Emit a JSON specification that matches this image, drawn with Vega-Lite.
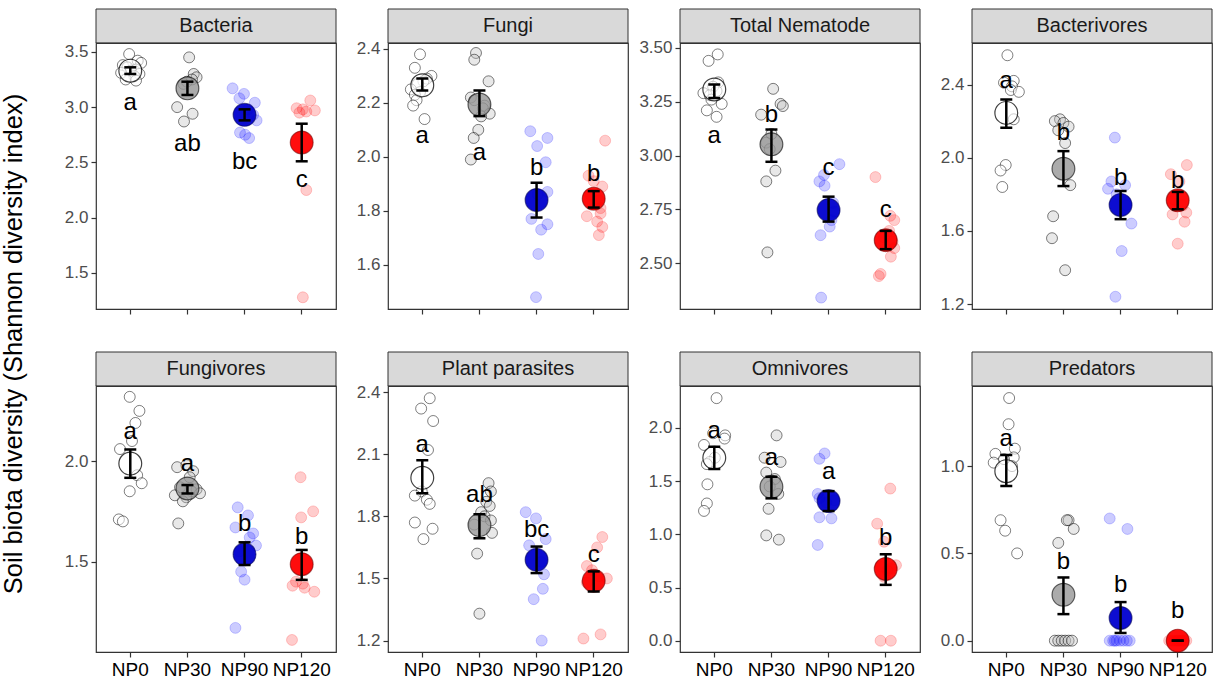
{
"$schema": "https://vega.github.io/schema/vega-lite/v6.json",
"background": "white",
"padding": {"left": 2, "top": 8, "right": 5, "bottom": 5},
"title": {"text": "Soil biota diversity (Shannon diversity index)", "orient": "left", "anchor": "middle", "fontSize": 25.5, "fontWeight": "normal", "color": "black", "font": "Liberation Sans", "offset": 36},
"datasets": {
"pts": [
{"p":"Bacteria","t":"NP0","v":3.48,"j":-0.02},{"p":"Bacteria","t":"NP0","v":3.42,"j":0.13},{"p":"Bacteria","t":"NP0","v":3.40,"j":0.19},{"p":"Bacteria","t":"NP0","v":3.38,"j":-0.13},{"p":"Bacteria","t":"NP0","v":3.36,"j":-0.05},{"p":"Bacteria","t":"NP0","v":3.34,"j":0.10},{"p":"Bacteria","t":"NP0","v":3.33,"j":0.01},{"p":"Bacteria","t":"NP0","v":3.31,"j":-0.16},{"p":"Bacteria","t":"NP0","v":3.30,"j":0.16},{"p":"Bacteria","t":"NP0","v":3.28,"j":0.07},{"p":"Bacteria","t":"NP0","v":3.25,"j":-0.08},{"p":"Bacteria","t":"NP0","v":3.24,"j":0.10},
{"p":"Bacteria","t":"NP30","v":3.45,"j":0.03},{"p":"Bacteria","t":"NP30","v":3.30,"j":0.11},{"p":"Bacteria","t":"NP30","v":3.27,"j":0.16},{"p":"Bacteria","t":"NP30","v":3.25,"j":0.08},{"p":"Bacteria","t":"NP30","v":3.23,"j":-0.01},{"p":"Bacteria","t":"NP30","v":3.21,"j":-0.07},{"p":"Bacteria","t":"NP30","v":3.00,"j":-0.18},{"p":"Bacteria","t":"NP30","v":2.94,"j":0.09},{"p":"Bacteria","t":"NP30","v":2.87,"j":-0.06},
{"p":"Bacteria","t":"NP90","v":3.17,"j":-0.21},{"p":"Bacteria","t":"NP90","v":3.12,"j":-0.01},{"p":"Bacteria","t":"NP90","v":3.08,"j":-0.09},{"p":"Bacteria","t":"NP90","v":3.04,"j":0.18},{"p":"Bacteria","t":"NP90","v":2.98,"j":0.06},{"p":"Bacteria","t":"NP90","v":2.93,"j":0.15},{"p":"Bacteria","t":"NP90","v":2.88,"j":0.21},{"p":"Bacteria","t":"NP90","v":2.77,"j":-0.08},{"p":"Bacteria","t":"NP90","v":2.75,"j":0.01},{"p":"Bacteria","t":"NP90","v":2.72,"j":0.08},
{"p":"Bacteria","t":"NP120","v":3.06,"j":0.15},{"p":"Bacteria","t":"NP120","v":2.99,"j":-0.09},{"p":"Bacteria","t":"NP120","v":2.98,"j":0.02},{"p":"Bacteria","t":"NP120","v":2.97,"j":0.23},{"p":"Bacteria","t":"NP120","v":2.96,"j":0.08},{"p":"Bacteria","t":"NP120","v":2.95,"j":-0.04},{"p":"Bacteria","t":"NP120","v":2.25,"j":0.08},{"p":"Bacteria","t":"NP120","v":1.28,"j":0.02},
{"p":"Fungi","t":"NP0","v":2.38,"j":-0.04},{"p":"Fungi","t":"NP0","v":2.33,"j":-0.13},{"p":"Fungi","t":"NP0","v":2.30,"j":0.16},{"p":"Fungi","t":"NP0","v":2.29,"j":0.08},{"p":"Fungi","t":"NP0","v":2.28,"j":0.02},{"p":"Fungi","t":"NP0","v":2.27,"j":-0.08},{"p":"Fungi","t":"NP0","v":2.25,"j":-0.2},{"p":"Fungi","t":"NP0","v":2.24,"j":-0.04},{"p":"Fungi","t":"NP0","v":2.23,"j":-0.13},{"p":"Fungi","t":"NP0","v":2.21,"j":-0.1},{"p":"Fungi","t":"NP0","v":2.19,"j":-0.16},{"p":"Fungi","t":"NP0","v":2.14,"j":0.04},
{"p":"Fungi","t":"NP30","v":2.385,"j":-0.06},{"p":"Fungi","t":"NP30","v":2.36,"j":-0.09},{"p":"Fungi","t":"NP30","v":2.28,"j":0.16},{"p":"Fungi","t":"NP30","v":2.22,"j":-0.15},{"p":"Fungi","t":"NP30","v":2.21,"j":-0.09},{"p":"Fungi","t":"NP30","v":2.19,"j":0.09},{"p":"Fungi","t":"NP30","v":2.18,"j":0.06},{"p":"Fungi","t":"NP30","v":2.16,"j":0.18},{"p":"Fungi","t":"NP30","v":2.15,"j":0.03},{"p":"Fungi","t":"NP30","v":2.10,"j":-0.02},{"p":"Fungi","t":"NP30","v":2.07,"j":-0.1},{"p":"Fungi","t":"NP30","v":1.99,"j":-0.15},
{"p":"Fungi","t":"NP90","v":2.095,"j":-0.11},{"p":"Fungi","t":"NP90","v":2.07,"j":0.19},{"p":"Fungi","t":"NP90","v":2.04,"j":0.01},{"p":"Fungi","t":"NP90","v":1.98,"j":0.16},{"p":"Fungi","t":"NP90","v":1.87,"j":0.19},{"p":"Fungi","t":"NP90","v":1.86,"j":0.02},{"p":"Fungi","t":"NP90","v":1.77,"j":-0.09},{"p":"Fungi","t":"NP90","v":1.75,"j":0.19},{"p":"Fungi","t":"NP90","v":1.73,"j":0.08},{"p":"Fungi","t":"NP90","v":1.64,"j":0.03},{"p":"Fungi","t":"NP90","v":1.48,"j":-0.01},
{"p":"Fungi","t":"NP120","v":2.06,"j":0.2},{"p":"Fungi","t":"NP120","v":1.93,"j":-0.09},{"p":"Fungi","t":"NP120","v":1.91,"j":0.0},{"p":"Fungi","t":"NP120","v":1.89,"j":0.15},{"p":"Fungi","t":"NP120","v":1.86,"j":-0.06},{"p":"Fungi","t":"NP120","v":1.84,"j":0.09},{"p":"Fungi","t":"NP120","v":1.81,"j":0.12},{"p":"Fungi","t":"NP120","v":1.79,"j":0.12},{"p":"Fungi","t":"NP120","v":1.78,"j":-0.12},{"p":"Fungi","t":"NP120","v":1.76,"j":0.06},{"p":"Fungi","t":"NP120","v":1.74,"j":0.15},{"p":"Fungi","t":"NP120","v":1.71,"j":0.09},
{"p":"Total Nematode","t":"NP0","v":3.47,"j":0.06},{"p":"Total Nematode","t":"NP0","v":3.44,"j":-0.1},{"p":"Total Nematode","t":"NP0","v":3.34,"j":0.07},{"p":"Total Nematode","t":"NP0","v":3.32,"j":-0.02},{"p":"Total Nematode","t":"NP0","v":3.30,"j":0.04},{"p":"Total Nematode","t":"NP0","v":3.29,"j":-0.19},{"p":"Total Nematode","t":"NP0","v":3.28,"j":-0.08},{"p":"Total Nematode","t":"NP0","v":3.26,"j":-0.05},{"p":"Total Nematode","t":"NP0","v":3.24,"j":0.13},{"p":"Total Nematode","t":"NP0","v":3.21,"j":-0.13},{"p":"Total Nematode","t":"NP0","v":3.18,"j":0.04},
{"p":"Total Nematode","t":"NP30","v":3.31,"j":0.03},{"p":"Total Nematode","t":"NP30","v":3.24,"j":0.16},{"p":"Total Nematode","t":"NP30","v":3.23,"j":0.2},{"p":"Total Nematode","t":"NP30","v":3.19,"j":-0.18},{"p":"Total Nematode","t":"NP30","v":3.10,"j":0.0},{"p":"Total Nematode","t":"NP30","v":3.06,"j":-0.09},{"p":"Total Nematode","t":"NP30","v":3.03,"j":-0.03},{"p":"Total Nematode","t":"NP30","v":2.93,"j":0.07},{"p":"Total Nematode","t":"NP30","v":2.88,"j":-0.09},{"p":"Total Nematode","t":"NP30","v":2.55,"j":-0.07},
{"p":"Total Nematode","t":"NP90","v":2.96,"j":0.19},{"p":"Total Nematode","t":"NP90","v":2.91,"j":-0.08},{"p":"Total Nematode","t":"NP90","v":2.88,"j":-0.16},{"p":"Total Nematode","t":"NP90","v":2.86,"j":-0.07},{"p":"Total Nematode","t":"NP90","v":2.78,"j":0.08},{"p":"Total Nematode","t":"NP90","v":2.74,"j":0.1},{"p":"Total Nematode","t":"NP90","v":2.70,"j":0.05},{"p":"Total Nematode","t":"NP90","v":2.67,"j":0.02},{"p":"Total Nematode","t":"NP90","v":2.63,"j":-0.14},{"p":"Total Nematode","t":"NP90","v":2.34,"j":-0.13},
{"p":"Total Nematode","t":"NP120","v":2.90,"j":-0.18},{"p":"Total Nematode","t":"NP120","v":2.72,"j":0.08},{"p":"Total Nematode","t":"NP120","v":2.70,"j":0.15},{"p":"Total Nematode","t":"NP120","v":2.65,"j":0.06},{"p":"Total Nematode","t":"NP120","v":2.62,"j":-0.03},{"p":"Total Nematode","t":"NP120","v":2.60,"j":0.12},{"p":"Total Nematode","t":"NP120","v":2.57,"j":0.15},{"p":"Total Nematode","t":"NP120","v":2.53,"j":0.09},{"p":"Total Nematode","t":"NP120","v":2.45,"j":-0.09},{"p":"Total Nematode","t":"NP120","v":2.44,"j":-0.12},
{"p":"Bacterivores","t":"NP0","v":2.56,"j":0.02},{"p":"Bacterivores","t":"NP0","v":2.42,"j":0.13},{"p":"Bacterivores","t":"NP0","v":2.41,"j":-0.04},{"p":"Bacterivores","t":"NP0","v":2.39,"j":0.1},{"p":"Bacterivores","t":"NP0","v":2.37,"j":0.08},{"p":"Bacterivores","t":"NP0","v":2.36,"j":0.22},{"p":"Bacterivores","t":"NP0","v":2.21,"j":0.13},{"p":"Bacterivores","t":"NP0","v":1.96,"j":-0.01},{"p":"Bacterivores","t":"NP0","v":1.93,"j":-0.1},{"p":"Bacterivores","t":"NP0","v":1.84,"j":-0.07},
{"p":"Bacterivores","t":"NP30","v":2.21,"j":-0.06},{"p":"Bacterivores","t":"NP30","v":2.20,"j":-0.15},{"p":"Bacterivores","t":"NP30","v":2.19,"j":0.0},{"p":"Bacterivores","t":"NP30","v":2.17,"j":0.09},{"p":"Bacterivores","t":"NP30","v":2.15,"j":-0.09},{"p":"Bacterivores","t":"NP30","v":2.08,"j":0.03},{"p":"Bacterivores","t":"NP30","v":1.85,"j":0.12},{"p":"Bacterivores","t":"NP30","v":1.68,"j":-0.18},{"p":"Bacterivores","t":"NP30","v":1.56,"j":-0.2},{"p":"Bacterivores","t":"NP30","v":1.385,"j":0.03},
{"p":"Bacterivores","t":"NP90","v":2.11,"j":-0.1},{"p":"Bacterivores","t":"NP90","v":1.87,"j":-0.16},{"p":"Bacterivores","t":"NP90","v":1.85,"j":0.08},{"p":"Bacterivores","t":"NP90","v":1.83,"j":-0.22},{"p":"Bacterivores","t":"NP90","v":1.80,"j":-0.07},{"p":"Bacterivores","t":"NP90","v":1.74,"j":0.1},{"p":"Bacterivores","t":"NP90","v":1.64,"j":0.19},{"p":"Bacterivores","t":"NP90","v":1.49,"j":0.02},{"p":"Bacterivores","t":"NP90","v":1.24,"j":-0.09},
{"p":"Bacterivores","t":"NP120","v":1.96,"j":0.16},{"p":"Bacterivores","t":"NP120","v":1.91,"j":-0.12},{"p":"Bacterivores","t":"NP120","v":1.87,"j":0.03},{"p":"Bacterivores","t":"NP120","v":1.77,"j":-0.06},{"p":"Bacterivores","t":"NP120","v":1.74,"j":0.09},{"p":"Bacterivores","t":"NP120","v":1.70,"j":0.15},{"p":"Bacterivores","t":"NP120","v":1.69,"j":-0.09},{"p":"Bacterivores","t":"NP120","v":1.65,"j":0.12},{"p":"Bacterivores","t":"NP120","v":1.53,"j":0.0},
{"p":"Fungivores","t":"NP0","v":2.32,"j":-0.01},{"p":"Fungivores","t":"NP0","v":2.25,"j":0.16},{"p":"Fungivores","t":"NP0","v":2.19,"j":0.09},{"p":"Fungivores","t":"NP0","v":2.10,"j":0.03},{"p":"Fungivores","t":"NP0","v":2.06,"j":-0.18},{"p":"Fungivores","t":"NP0","v":1.93,"j":0.12},{"p":"Fungivores","t":"NP0","v":1.89,"j":0.2},{"p":"Fungivores","t":"NP0","v":1.85,"j":-0.01},{"p":"Fungivores","t":"NP0","v":1.71,"j":-0.2},{"p":"Fungivores","t":"NP0","v":1.70,"j":-0.13},
{"p":"Fungivores","t":"NP30","v":1.98,"j":-0.02},{"p":"Fungivores","t":"NP30","v":1.97,"j":-0.18},{"p":"Fungivores","t":"NP30","v":1.95,"j":0.1},{"p":"Fungivores","t":"NP30","v":1.92,"j":0.04},{"p":"Fungivores","t":"NP30","v":1.87,"j":-0.13},{"p":"Fungivores","t":"NP30","v":1.86,"j":0.16},{"p":"Fungivores","t":"NP30","v":1.85,"j":0.07},{"p":"Fungivores","t":"NP30","v":1.84,"j":0.22},{"p":"Fungivores","t":"NP30","v":1.83,"j":-0.22},{"p":"Fungivores","t":"NP30","v":1.82,"j":-0.02},{"p":"Fungivores","t":"NP30","v":1.80,"j":-0.08},{"p":"Fungivores","t":"NP30","v":1.69,"j":-0.16},
{"p":"Fungivores","t":"NP90","v":1.77,"j":-0.12},{"p":"Fungivores","t":"NP90","v":1.73,"j":0.06},{"p":"Fungivores","t":"NP90","v":1.67,"j":-0.16},{"p":"Fungivores","t":"NP90","v":1.64,"j":0.15},{"p":"Fungivores","t":"NP90","v":1.62,"j":0.09},{"p":"Fungivores","t":"NP90","v":1.58,"j":0.2},{"p":"Fungivores","t":"NP90","v":1.55,"j":-0.09},{"p":"Fungivores","t":"NP90","v":1.45,"j":-0.06},{"p":"Fungivores","t":"NP90","v":1.41,"j":0.0},{"p":"Fungivores","t":"NP90","v":1.17,"j":-0.16},
{"p":"Fungivores","t":"NP120","v":1.92,"j":-0.02},{"p":"Fungivores","t":"NP120","v":1.75,"j":0.2},{"p":"Fungivores","t":"NP120","v":1.72,"j":-0.01},{"p":"Fungivores","t":"NP120","v":1.40,"j":-0.1},{"p":"Fungivores","t":"NP120","v":1.39,"j":0.02},{"p":"Fungivores","t":"NP120","v":1.38,"j":-0.16},{"p":"Fungivores","t":"NP120","v":1.37,"j":0.05},{"p":"Fungivores","t":"NP120","v":1.35,"j":0.22},{"p":"Fungivores","t":"NP120","v":1.11,"j":-0.17},
{"p":"Plant parasites","t":"NP0","v":2.37,"j":0.13},{"p":"Plant parasites","t":"NP0","v":2.32,"j":-0.02},{"p":"Plant parasites","t":"NP0","v":2.26,"j":0.19},{"p":"Plant parasites","t":"NP0","v":2.12,"j":0.1},{"p":"Plant parasites","t":"NP0","v":1.92,"j":-0.01},{"p":"Plant parasites","t":"NP0","v":1.90,"j":-0.13},{"p":"Plant parasites","t":"NP0","v":1.88,"j":0.08},{"p":"Plant parasites","t":"NP0","v":1.86,"j":0.13},{"p":"Plant parasites","t":"NP0","v":1.77,"j":-0.13},{"p":"Plant parasites","t":"NP0","v":1.74,"j":0.18},{"p":"Plant parasites","t":"NP0","v":1.69,"j":0.02},
{"p":"Plant parasites","t":"NP30","v":1.96,"j":0.16},{"p":"Plant parasites","t":"NP30","v":1.92,"j":0.2},{"p":"Plant parasites","t":"NP30","v":1.87,"j":0.12},{"p":"Plant parasites","t":"NP30","v":1.85,"j":0.18},{"p":"Plant parasites","t":"NP30","v":1.82,"j":0.03},{"p":"Plant parasites","t":"NP30","v":1.80,"j":0.09},{"p":"Plant parasites","t":"NP30","v":1.78,"j":0.2},{"p":"Plant parasites","t":"NP30","v":1.76,"j":-0.09},{"p":"Plant parasites","t":"NP30","v":1.72,"j":0.22},{"p":"Plant parasites","t":"NP30","v":1.62,"j":-0.04},{"p":"Plant parasites","t":"NP30","v":1.33,"j":0.0},
{"p":"Plant parasites","t":"NP90","v":1.82,"j":-0.19},{"p":"Plant parasites","t":"NP90","v":1.79,"j":-0.01},{"p":"Plant parasites","t":"NP90","v":1.69,"j":0.16},{"p":"Plant parasites","t":"NP90","v":1.66,"j":-0.13},{"p":"Plant parasites","t":"NP90","v":1.58,"j":0.08},{"p":"Plant parasites","t":"NP90","v":1.52,"j":0.13},{"p":"Plant parasites","t":"NP90","v":1.45,"j":0.11},{"p":"Plant parasites","t":"NP90","v":1.40,"j":-0.05},{"p":"Plant parasites","t":"NP90","v":1.20,"j":0.09},
{"p":"Plant parasites","t":"NP120","v":1.70,"j":0.15},{"p":"Plant parasites","t":"NP120","v":1.65,"j":0.06},{"p":"Plant parasites","t":"NP120","v":1.56,"j":-0.12},{"p":"Plant parasites","t":"NP120","v":1.54,"j":-0.03},{"p":"Plant parasites","t":"NP120","v":1.51,"j":0.09},{"p":"Plant parasites","t":"NP120","v":1.50,"j":0.23},{"p":"Plant parasites","t":"NP120","v":1.48,"j":-0.12},{"p":"Plant parasites","t":"NP120","v":1.23,"j":0.12},{"p":"Plant parasites","t":"NP120","v":1.21,"j":-0.18},
{"p":"Omnivores","t":"NP0","v":2.28,"j":0.04},{"p":"Omnivores","t":"NP0","v":1.95,"j":-0.02},{"p":"Omnivores","t":"NP0","v":1.93,"j":0.19},{"p":"Omnivores","t":"NP0","v":1.90,"j":0.18},{"p":"Omnivores","t":"NP0","v":1.84,"j":-0.18},{"p":"Omnivores","t":"NP0","v":1.72,"j":0.01},{"p":"Omnivores","t":"NP0","v":1.68,"j":-0.08},{"p":"Omnivores","t":"NP0","v":1.66,"j":-0.13},{"p":"Omnivores","t":"NP0","v":1.47,"j":-0.12},{"p":"Omnivores","t":"NP0","v":1.29,"j":-0.13},{"p":"Omnivores","t":"NP0","v":1.22,"j":-0.18},
{"p":"Omnivores","t":"NP30","v":1.93,"j":0.09},{"p":"Omnivores","t":"NP30","v":1.72,"j":-0.12},{"p":"Omnivores","t":"NP30","v":1.68,"j":0.16},{"p":"Omnivores","t":"NP30","v":1.58,"j":-0.09},{"p":"Omnivores","t":"NP30","v":1.52,"j":0.06},{"p":"Omnivores","t":"NP30","v":1.45,"j":-0.03},{"p":"Omnivores","t":"NP30","v":1.38,"j":0.12},{"p":"Omnivores","t":"NP30","v":1.24,"j":-0.05},{"p":"Omnivores","t":"NP30","v":0.99,"j":-0.09},{"p":"Omnivores","t":"NP30","v":0.95,"j":0.13},
{"p":"Omnivores","t":"NP90","v":1.76,"j":-0.07},{"p":"Omnivores","t":"NP90","v":1.71,"j":-0.16},{"p":"Omnivores","t":"NP90","v":1.38,"j":-0.19},{"p":"Omnivores","t":"NP90","v":1.34,"j":-0.16},{"p":"Omnivores","t":"NP90","v":1.32,"j":0.1},{"p":"Omnivores","t":"NP90","v":1.30,"j":-0.04},{"p":"Omnivores","t":"NP90","v":1.16,"j":-0.16},{"p":"Omnivores","t":"NP90","v":1.15,"j":0.05},{"p":"Omnivores","t":"NP90","v":0.90,"j":-0.19},
{"p":"Omnivores","t":"NP120","v":1.43,"j":0.08},{"p":"Omnivores","t":"NP120","v":1.10,"j":-0.15},{"p":"Omnivores","t":"NP120","v":0.93,"j":-0.03},{"p":"Omnivores","t":"NP120","v":0.71,"j":0.18},{"p":"Omnivores","t":"NP120","v":0.70,"j":-0.09},{"p":"Omnivores","t":"NP120","v":0.68,"j":0.09},{"p":"Omnivores","t":"NP120","v":0.66,"j":0.03},{"p":"Omnivores","t":"NP120","v":0.60,"j":-0.03},{"p":"Omnivores","t":"NP120","v":0.0,"j":-0.09},{"p":"Omnivores","t":"NP120","v":0.0,"j":0.09},
{"p":"Predators","t":"NP0","v":1.39,"j":0.05},{"p":"Predators","t":"NP0","v":1.24,"j":0.04},{"p":"Predators","t":"NP0","v":1.10,"j":0.15},{"p":"Predators","t":"NP0","v":1.07,"j":-0.19},{"p":"Predators","t":"NP0","v":1.05,"j":0.13},{"p":"Predators","t":"NP0","v":1.04,"j":-0.04},{"p":"Predators","t":"NP0","v":1.02,"j":-0.22},{"p":"Predators","t":"NP0","v":1.00,"j":0.1},{"p":"Predators","t":"NP0","v":0.69,"j":-0.1},{"p":"Predators","t":"NP0","v":0.63,"j":-0.02},{"p":"Predators","t":"NP0","v":0.50,"j":0.19},
{"p":"Predators","t":"NP30","v":0.69,"j":0.09},{"p":"Predators","t":"NP30","v":0.69,"j":0.06},{"p":"Predators","t":"NP30","v":0.64,"j":0.18},{"p":"Predators","t":"NP30","v":0.56,"j":-0.09},{"p":"Predators","t":"NP30","v":0,"j":-0.15},{"p":"Predators","t":"NP30","v":0,"j":-0.09},{"p":"Predators","t":"NP30","v":0,"j":-0.03},{"p":"Predators","t":"NP30","v":0,"j":0.03},{"p":"Predators","t":"NP30","v":0,"j":0.09},{"p":"Predators","t":"NP30","v":0,"j":0.15},
{"p":"Predators","t":"NP90","v":0.70,"j":-0.19},{"p":"Predators","t":"NP90","v":0.64,"j":0.12},{"p":"Predators","t":"NP90","v":0,"j":-0.19},{"p":"Predators","t":"NP90","v":0,"j":-0.13},{"p":"Predators","t":"NP90","v":0,"j":-0.07},{"p":"Predators","t":"NP90","v":0,"j":-0.01},{"p":"Predators","t":"NP90","v":0,"j":0.05},{"p":"Predators","t":"NP90","v":0,"j":0.11},{"p":"Predators","t":"NP90","v":0,"j":0.16},{"p":"Predators","t":"NP90","v":0,"j":-0.1},
{"p":"Predators","t":"NP120","v":0,"j":-0.15},{"p":"Predators","t":"NP120","v":0,"j":-0.1},{"p":"Predators","t":"NP120","v":0,"j":-0.06},{"p":"Predators","t":"NP120","v":0,"j":-0.02},{"p":"Predators","t":"NP120","v":0,"j":0.02},{"p":"Predators","t":"NP120","v":0,"j":0.06},{"p":"Predators","t":"NP120","v":0,"j":0.1},{"p":"Predators","t":"NP120","v":0,"j":0.15},{"p":"Predators","t":"NP120","v":0,"j":0.0},{"p":"Predators","t":"NP120","v":0,"j":0.08}
],
"sum": [
{"p":"Bacteria","t":"NP0","m":3.33,"lo":3.30,"hi":3.36,"lab":"a","ly":3.035},
{"p":"Bacteria","t":"NP30","m":3.17,"lo":3.11,"hi":3.23,"lab":"ab","ly":2.67},
{"p":"Bacteria","t":"NP90","m":2.93,"lo":2.88,"hi":2.98,"lab":"bc","ly":2.508},
{"p":"Bacteria","t":"NP120","m":2.68,"lo":2.51,"hi":2.85,"lab":"c","ly":2.34},
{"p":"Fungi","t":"NP0","m":2.265,"lo":2.246,"hi":2.29,"lab":"a","ly":2.077},
{"p":"Fungi","t":"NP30","m":2.194,"lo":2.151,"hi":2.246,"lab":"a","ly":2.015},
{"p":"Fungi","t":"NP90","m":1.84,"lo":1.775,"hi":1.904,"lab":"b","ly":1.96},
{"p":"Fungi","t":"NP120","m":1.845,"lo":1.812,"hi":1.873,"lab":"b","ly":1.935},
{"p":"Total Nematode","t":"NP0","m":3.307,"lo":3.268,"hi":3.33,"lab":"a","ly":3.09},
{"p":"Total Nematode","t":"NP30","m":3.052,"lo":2.971,"hi":3.121,"lab":"b","ly":3.19},
{"p":"Total Nematode","t":"NP90","m":2.747,"lo":2.693,"hi":2.809,"lab":"c","ly":2.944},
{"p":"Total Nematode","t":"NP120","m":2.607,"lo":2.565,"hi":2.65,"lab":"c","ly":2.746},
{"p":"Bacterivores","t":"NP0","m":2.245,"lo":2.164,"hi":2.318,"lab":"a","ly":2.418},
{"p":"Bacterivores","t":"NP30","m":1.94,"lo":1.845,"hi":2.036,"lab":"b","ly":2.136},
{"p":"Bacterivores","t":"NP90","m":1.742,"lo":1.664,"hi":1.818,"lab":"b","ly":1.891},
{"p":"Bacterivores","t":"NP120","m":1.767,"lo":1.718,"hi":1.813,"lab":"b","ly":1.873},
{"p":"Fungivores","t":"NP0","m":1.988,"lo":1.917,"hi":2.058,"lab":"a","ly":2.146},
{"p":"Fungivores","t":"NP30","m":1.864,"lo":1.839,"hi":1.881,"lab":"a","ly":1.988},
{"p":"Fungivores","t":"NP90","m":1.536,"lo":1.483,"hi":1.596,"lab":"b","ly":1.685},
{"p":"Fungivores","t":"NP120","m":1.487,"lo":1.409,"hi":1.558,"lab":"b","ly":1.624},
{"p":"Plant parasites","t":"NP0","m":1.986,"lo":1.911,"hi":2.071,"lab":"a","ly":2.143},
{"p":"Plant parasites","t":"NP30","m":1.758,"lo":1.694,"hi":1.81,"lab":"ab","ly":1.903},
{"p":"Plant parasites","t":"NP90","m":1.59,"lo":1.526,"hi":1.654,"lab":"bc","ly":1.734},
{"p":"Plant parasites","t":"NP120","m":1.489,"lo":1.437,"hi":1.534,"lab":"c","ly":1.614},
{"p":"Omnivores","t":"NP0","m":1.719,"lo":1.613,"hi":1.822,"lab":"a","ly":1.969},
{"p":"Omnivores","t":"NP30","m":1.447,"lo":1.338,"hi":1.541,"lab":"a","ly":1.72},
{"p":"Omnivores","t":"NP90","m":1.3125,"lo":1.219,"hi":1.406,"lab":"a","ly":1.59},
{"p":"Omnivores","t":"NP120","m":0.675,"lo":0.525,"hi":0.8125,"lab":"b","ly":0.969},
{"p":"Predators","t":"NP0","m":0.971,"lo":0.886,"hi":1.063,"lab":"a","ly":1.158},
{"p":"Predators","t":"NP30","m":0.263,"lo":0.152,"hi":0.362,"lab":"b","ly":0.45},
{"p":"Predators","t":"NP90","m":0.13,"lo":0.044,"hi":0.221,"lab":"b","ly":0.32},
{"p":"Predators","t":"NP120","m":0,"lo":0,"hi":0,"lab":"b","ly":0.168}
]
},
"concat": [
{"width":240,"height":34,"view":{"stroke":null},"data":{"values":[{"name":"Bacteria"}]},"layer":[{"mark":{"type":"rect","fill":"#d9d9d9","stroke":"#333333","strokeWidth":1},"encoding":{"x":{"datum":0,"type":"quantitative","scale":{"domain":[0,1],"nice":false},"axis":null},"x2":{"datum":1},"y":{"datum":0,"type":"quantitative","scale":{"domain":[0,1],"nice":false},"axis":null},"y2":{"datum":1}}},{"mark":{"type":"text","fontSize":20,"color":"#1a1a1a","baseline":"middle"},"encoding":{"x":{"datum":0.5,"type":"quantitative"},"y":{"datum":0.5,"type":"quantitative"},"text":{"field":"name"}}}]},
{"width":240,"height":34,"view":{"stroke":null},"data":{"values":[{"name":"Fungi"}]},"layer":[{"mark":{"type":"rect","fill":"#d9d9d9","stroke":"#333333","strokeWidth":1},"encoding":{"x":{"datum":0,"type":"quantitative","scale":{"domain":[0,1],"nice":false},"axis":null},"x2":{"datum":1},"y":{"datum":0,"type":"quantitative","scale":{"domain":[0,1],"nice":false},"axis":null},"y2":{"datum":1}}},{"mark":{"type":"text","fontSize":20,"color":"#1a1a1a","baseline":"middle"},"encoding":{"x":{"datum":0.5,"type":"quantitative"},"y":{"datum":0.5,"type":"quantitative"},"text":{"field":"name"}}}]},
{"width":240,"height":34,"view":{"stroke":null},"data":{"values":[{"name":"Total Nematode"}]},"layer":[{"mark":{"type":"rect","fill":"#d9d9d9","stroke":"#333333","strokeWidth":1},"encoding":{"x":{"datum":0,"type":"quantitative","scale":{"domain":[0,1],"nice":false},"axis":null},"x2":{"datum":1},"y":{"datum":0,"type":"quantitative","scale":{"domain":[0,1],"nice":false},"axis":null},"y2":{"datum":1}}},{"mark":{"type":"text","fontSize":20,"color":"#1a1a1a","baseline":"middle"},"encoding":{"x":{"datum":0.5,"type":"quantitative"},"y":{"datum":0.5,"type":"quantitative"},"text":{"field":"name"}}}]},
{"width":240,"height":34,"view":{"stroke":null},"data":{"values":[{"name":"Bacterivores"}]},"layer":[{"mark":{"type":"rect","fill":"#d9d9d9","stroke":"#333333","strokeWidth":1},"encoding":{"x":{"datum":0,"type":"quantitative","scale":{"domain":[0,1],"nice":false},"axis":null},"x2":{"datum":1},"y":{"datum":0,"type":"quantitative","scale":{"domain":[0,1],"nice":false},"axis":null},"y2":{"datum":1}}},{"mark":{"type":"text","fontSize":20,"color":"#1a1a1a","baseline":"middle"},"encoding":{"x":{"datum":0.5,"type":"quantitative"},"y":{"datum":0.5,"type":"quantitative"},"text":{"field":"name"}}}]},

{"width":240,"height":266,"layer":[
 {"data":{"name":"pts"},"transform":[{"filter":"datum.p == 'Bacteria'"}],"mark":{"type":"circle","size":120,"strokeWidth":1,"opacity":1},"encoding":{"x":{"field":"t","type":"nominal","sort":["NP0","NP30","NP90","NP120"],"scale":{"type":"band","paddingInner":0,"paddingOuter":0.1},"axis":{"labels":false,"bandPosition":0.5}},"xOffset":{"field":"j","type":"quantitative","scale":{"domain":[-0.5,0.5]}},"y":{"field":"v","type":"quantitative","scale":{"domain":[1.174,3.58],"nice":false,"zero":false},"axis":{"values":[1.5,2.0,2.5,3.0,3.5],"format":".1f"}},"fill":{"field":"t","type":"nominal","scale":{"domain":["NP0","NP30","NP90","NP120"],"range":["rgba(255,255,255,0.5)","rgba(190,190,190,0.35)","rgba(0,0,255,0.2)","rgba(255,0,0,0.2)"]},"legend":null},"stroke":{"field":"t","type":"nominal","scale":{"domain":["NP0","NP30","NP90","NP120"],"range":["rgba(0,0,0,0.5)","rgba(0,0,0,0.5)","rgba(0,0,255,0.2)","rgba(255,0,0,0.2)"]},"legend":null}}},
 {"data":{"name":"sum"},"transform":[{"filter":"datum.p == 'Bacteria'"}],"encoding":{"x":{"field":"t","type":"nominal","sort":["NP0","NP30","NP90","NP120"]}},"layer":[
  {"mark":{"type":"circle","size":520,"strokeWidth":1.2,"opacity":1},"encoding":{"y":{"field":"m","type":"quantitative"},"fill":{"field":"t","type":"nominal","scale":{"domain":["NP0","NP30","NP90","NP120"],"range":["rgba(255,255,255,0.6)","rgba(150,150,150,0.8)","rgba(0,0,205,0.95)","rgba(255,0,0,0.95)"]},"legend":null},"stroke":{"field":"t","type":"nominal","scale":{"domain":["NP0","NP30","NP90","NP120"],"range":["rgba(0,0,0,0.75)","rgba(0,0,0,0.6)","rgba(0,0,90,0.6)","rgba(120,0,0,0.6)"]},"legend":null}}},
  {"mark":{"type":"rule","strokeWidth":2.5,"color":"black"},"encoding":{"y":{"field":"lo","type":"quantitative"},"y2":{"field":"hi"}}},
  {"mark":{"type":"tick","size":12,"thickness":2.5,"color":"black","opacity":1},"encoding":{"y":{"field":"lo","type":"quantitative"}}},
  {"mark":{"type":"tick","size":12,"thickness":2.5,"color":"black","opacity":1},"encoding":{"y":{"field":"hi","type":"quantitative"}}},
  {"mark":{"type":"text","fontSize":24,"color":"black","baseline":"middle"},"encoding":{"y":{"field":"ly","type":"quantitative"},"text":{"field":"lab"}}}
 ],"resolve":{"scale":{"fill":"independent","stroke":"independent"}}}
],"resolve":{"scale":{"fill":"independent","stroke":"independent"}}},

{"width":240,"height":266,"layer":[
 {"data":{"name":"pts"},"transform":[{"filter":"datum.p == 'Fungi'"}],"mark":{"type":"circle","size":120,"strokeWidth":1,"opacity":1},"encoding":{"x":{"field":"t","type":"nominal","sort":["NP0","NP30","NP90","NP120"],"scale":{"type":"band","paddingInner":0,"paddingOuter":0.1},"axis":{"labels":false,"bandPosition":0.5}},"xOffset":{"field":"j","type":"quantitative","scale":{"domain":[-0.5,0.5]}},"y":{"field":"v","type":"quantitative","scale":{"domain":[1.436,2.422],"nice":false,"zero":false},"axis":{"values":[1.6,1.8,2.0,2.2,2.4],"format":".1f"}},"fill":{"field":"t","type":"nominal","scale":{"domain":["NP0","NP30","NP90","NP120"],"range":["rgba(255,255,255,0.5)","rgba(190,190,190,0.35)","rgba(0,0,255,0.2)","rgba(255,0,0,0.2)"]},"legend":null},"stroke":{"field":"t","type":"nominal","scale":{"domain":["NP0","NP30","NP90","NP120"],"range":["rgba(0,0,0,0.5)","rgba(0,0,0,0.5)","rgba(0,0,255,0.2)","rgba(255,0,0,0.2)"]},"legend":null}}},
 {"data":{"name":"sum"},"transform":[{"filter":"datum.p == 'Fungi'"}],"encoding":{"x":{"field":"t","type":"nominal","sort":["NP0","NP30","NP90","NP120"]}},"layer":[
  {"mark":{"type":"circle","size":520,"strokeWidth":1.2,"opacity":1},"encoding":{"y":{"field":"m","type":"quantitative"},"fill":{"field":"t","type":"nominal","scale":{"domain":["NP0","NP30","NP90","NP120"],"range":["rgba(255,255,255,0.6)","rgba(150,150,150,0.8)","rgba(0,0,205,0.95)","rgba(255,0,0,0.95)"]},"legend":null},"stroke":{"field":"t","type":"nominal","scale":{"domain":["NP0","NP30","NP90","NP120"],"range":["rgba(0,0,0,0.75)","rgba(0,0,0,0.6)","rgba(0,0,90,0.6)","rgba(120,0,0,0.6)"]},"legend":null}}},
  {"mark":{"type":"rule","strokeWidth":2.5,"color":"black"},"encoding":{"y":{"field":"lo","type":"quantitative"},"y2":{"field":"hi"}}},
  {"mark":{"type":"tick","size":12,"thickness":2.5,"color":"black","opacity":1},"encoding":{"y":{"field":"lo","type":"quantitative"}}},
  {"mark":{"type":"tick","size":12,"thickness":2.5,"color":"black","opacity":1},"encoding":{"y":{"field":"hi","type":"quantitative"}}},
  {"mark":{"type":"text","fontSize":24,"color":"black","baseline":"middle"},"encoding":{"y":{"field":"ly","type":"quantitative"},"text":{"field":"lab"}}}
 ],"resolve":{"scale":{"fill":"independent","stroke":"independent"}}}
],"resolve":{"scale":{"fill":"independent","stroke":"independent"}}},

{"width":240,"height":266,"layer":[
 {"data":{"name":"pts"},"transform":[{"filter":"datum.p == 'Total Nematode'"}],"mark":{"type":"circle","size":120,"strokeWidth":1,"opacity":1},"encoding":{"x":{"field":"t","type":"nominal","sort":["NP0","NP30","NP90","NP120"],"scale":{"type":"band","paddingInner":0,"paddingOuter":0.1},"axis":{"labels":false,"bandPosition":0.5}},"xOffset":{"field":"j","type":"quantitative","scale":{"domain":[-0.5,0.5]}},"y":{"field":"v","type":"quantitative","scale":{"domain":[2.287,3.523],"nice":false,"zero":false},"axis":{"values":[2.5,2.75,3.0,3.25,3.5],"format":".2f"}},"fill":{"field":"t","type":"nominal","scale":{"domain":["NP0","NP30","NP90","NP120"],"range":["rgba(255,255,255,0.5)","rgba(190,190,190,0.35)","rgba(0,0,255,0.2)","rgba(255,0,0,0.2)"]},"legend":null},"stroke":{"field":"t","type":"nominal","scale":{"domain":["NP0","NP30","NP90","NP120"],"range":["rgba(0,0,0,0.5)","rgba(0,0,0,0.5)","rgba(0,0,255,0.2)","rgba(255,0,0,0.2)"]},"legend":null}}},
 {"data":{"name":"sum"},"transform":[{"filter":"datum.p == 'Total Nematode'"}],"encoding":{"x":{"field":"t","type":"nominal","sort":["NP0","NP30","NP90","NP120"]}},"layer":[
  {"mark":{"type":"circle","size":520,"strokeWidth":1.2,"opacity":1},"encoding":{"y":{"field":"m","type":"quantitative"},"fill":{"field":"t","type":"nominal","scale":{"domain":["NP0","NP30","NP90","NP120"],"range":["rgba(255,255,255,0.6)","rgba(150,150,150,0.8)","rgba(0,0,205,0.95)","rgba(255,0,0,0.95)"]},"legend":null},"stroke":{"field":"t","type":"nominal","scale":{"domain":["NP0","NP30","NP90","NP120"],"range":["rgba(0,0,0,0.75)","rgba(0,0,0,0.6)","rgba(0,0,90,0.6)","rgba(120,0,0,0.6)"]},"legend":null}}},
  {"mark":{"type":"rule","strokeWidth":2.5,"color":"black"},"encoding":{"y":{"field":"lo","type":"quantitative"},"y2":{"field":"hi"}}},
  {"mark":{"type":"tick","size":12,"thickness":2.5,"color":"black","opacity":1},"encoding":{"y":{"field":"lo","type":"quantitative"}}},
  {"mark":{"type":"tick","size":12,"thickness":2.5,"color":"black","opacity":1},"encoding":{"y":{"field":"hi","type":"quantitative"}}},
  {"mark":{"type":"text","fontSize":24,"color":"black","baseline":"middle"},"encoding":{"y":{"field":"ly","type":"quantitative"},"text":{"field":"lab"}}}
 ],"resolve":{"scale":{"fill":"independent","stroke":"independent"}}}
],"resolve":{"scale":{"fill":"independent","stroke":"independent"}}},

{"width":240,"height":266,"layer":[
 {"data":{"name":"pts"},"transform":[{"filter":"datum.p == 'Bacterivores'"}],"mark":{"type":"circle","size":120,"strokeWidth":1,"opacity":1},"encoding":{"x":{"field":"t","type":"nominal","sort":["NP0","NP30","NP90","NP120"],"scale":{"type":"band","paddingInner":0,"paddingOuter":0.1},"axis":{"labels":false,"bandPosition":0.5}},"xOffset":{"field":"j","type":"quantitative","scale":{"domain":[-0.5,0.5]}},"y":{"field":"v","type":"quantitative","scale":{"domain":[1.173,2.627],"nice":false,"zero":false},"axis":{"values":[1.2,1.6,2.0,2.4],"format":".1f"}},"fill":{"field":"t","type":"nominal","scale":{"domain":["NP0","NP30","NP90","NP120"],"range":["rgba(255,255,255,0.5)","rgba(190,190,190,0.35)","rgba(0,0,255,0.2)","rgba(255,0,0,0.2)"]},"legend":null},"stroke":{"field":"t","type":"nominal","scale":{"domain":["NP0","NP30","NP90","NP120"],"range":["rgba(0,0,0,0.5)","rgba(0,0,0,0.5)","rgba(0,0,255,0.2)","rgba(255,0,0,0.2)"]},"legend":null}}},
 {"data":{"name":"sum"},"transform":[{"filter":"datum.p == 'Bacterivores'"}],"encoding":{"x":{"field":"t","type":"nominal","sort":["NP0","NP30","NP90","NP120"]}},"layer":[
  {"mark":{"type":"circle","size":520,"strokeWidth":1.2,"opacity":1},"encoding":{"y":{"field":"m","type":"quantitative"},"fill":{"field":"t","type":"nominal","scale":{"domain":["NP0","NP30","NP90","NP120"],"range":["rgba(255,255,255,0.6)","rgba(150,150,150,0.8)","rgba(0,0,205,0.95)","rgba(255,0,0,0.95)"]},"legend":null},"stroke":{"field":"t","type":"nominal","scale":{"domain":["NP0","NP30","NP90","NP120"],"range":["rgba(0,0,0,0.75)","rgba(0,0,0,0.6)","rgba(0,0,90,0.6)","rgba(120,0,0,0.6)"]},"legend":null}}},
  {"mark":{"type":"rule","strokeWidth":2.5,"color":"black"},"encoding":{"y":{"field":"lo","type":"quantitative"},"y2":{"field":"hi"}}},
  {"mark":{"type":"tick","size":12,"thickness":2.5,"color":"black","opacity":1},"encoding":{"y":{"field":"lo","type":"quantitative"}}},
  {"mark":{"type":"tick","size":12,"thickness":2.5,"color":"black","opacity":1},"encoding":{"y":{"field":"hi","type":"quantitative"}}},
  {"mark":{"type":"text","fontSize":24,"color":"black","baseline":"middle"},"encoding":{"y":{"field":"ly","type":"quantitative"},"text":{"field":"lab"}}}
 ],"resolve":{"scale":{"fill":"independent","stroke":"independent"}}}
],"resolve":{"scale":{"fill":"independent","stroke":"independent"}}},

{"width":240,"height":77,"view":{"stroke":null},"data":{"values":[{"name":"Fungivores"}]},"layer":[{"mark":{"type":"rect","fill":"#d9d9d9","stroke":"#333333","strokeWidth":1},"encoding":{"x":{"datum":0,"type":"quantitative","scale":{"domain":[0,1],"nice":false},"axis":null},"x2":{"datum":1},"y":{"datum":0,"type":"quantitative","scale":{"domain":[0,2.265],"nice":false},"axis":null},"y2":{"datum":1}}},{"mark":{"type":"text","fontSize":20,"color":"#1a1a1a","baseline":"middle"},"encoding":{"x":{"datum":0.5,"type":"quantitative"},"y":{"datum":0.5,"type":"quantitative"},"text":{"field":"name"}}}]},
{"width":240,"height":77,"view":{"stroke":null},"data":{"values":[{"name":"Plant parasites"}]},"layer":[{"mark":{"type":"rect","fill":"#d9d9d9","stroke":"#333333","strokeWidth":1},"encoding":{"x":{"datum":0,"type":"quantitative","scale":{"domain":[0,1],"nice":false},"axis":null},"x2":{"datum":1},"y":{"datum":0,"type":"quantitative","scale":{"domain":[0,2.265],"nice":false},"axis":null},"y2":{"datum":1}}},{"mark":{"type":"text","fontSize":20,"color":"#1a1a1a","baseline":"middle"},"encoding":{"x":{"datum":0.5,"type":"quantitative"},"y":{"datum":0.5,"type":"quantitative"},"text":{"field":"name"}}}]},
{"width":240,"height":77,"view":{"stroke":null},"data":{"values":[{"name":"Omnivores"}]},"layer":[{"mark":{"type":"rect","fill":"#d9d9d9","stroke":"#333333","strokeWidth":1},"encoding":{"x":{"datum":0,"type":"quantitative","scale":{"domain":[0,1],"nice":false},"axis":null},"x2":{"datum":1},"y":{"datum":0,"type":"quantitative","scale":{"domain":[0,2.265],"nice":false},"axis":null},"y2":{"datum":1}}},{"mark":{"type":"text","fontSize":20,"color":"#1a1a1a","baseline":"middle"},"encoding":{"x":{"datum":0.5,"type":"quantitative"},"y":{"datum":0.5,"type":"quantitative"},"text":{"field":"name"}}}]},
{"width":240,"height":77,"view":{"stroke":null},"data":{"values":[{"name":"Predators"}]},"layer":[{"mark":{"type":"rect","fill":"#d9d9d9","stroke":"#333333","strokeWidth":1},"encoding":{"x":{"datum":0,"type":"quantitative","scale":{"domain":[0,1],"nice":false},"axis":null},"x2":{"datum":1},"y":{"datum":0,"type":"quantitative","scale":{"domain":[0,2.265],"nice":false},"axis":null},"y2":{"datum":1}}},{"mark":{"type":"text","fontSize":20,"color":"#1a1a1a","baseline":"middle"},"encoding":{"x":{"datum":0.5,"type":"quantitative"},"y":{"datum":0.5,"type":"quantitative"},"text":{"field":"name"}}}]},

{"width":240,"height":266,"layer":[
 {"data":{"name":"pts"},"transform":[{"filter":"datum.p == 'Fungivores'"}],"mark":{"type":"circle","size":120,"strokeWidth":1,"opacity":1},"encoding":{"x":{"field":"t","type":"nominal","sort":["NP0","NP30","NP90","NP120"],"scale":{"type":"band","paddingInner":0,"paddingOuter":0.1},"axis":{"bandPosition":0.5}},"xOffset":{"field":"j","type":"quantitative","scale":{"domain":[-0.5,0.5]}},"y":{"field":"v","type":"quantitative","scale":{"domain":[1.05,2.374],"nice":false,"zero":false},"axis":{"values":[1.5,2.0],"format":".1f"}},"fill":{"field":"t","type":"nominal","scale":{"domain":["NP0","NP30","NP90","NP120"],"range":["rgba(255,255,255,0.5)","rgba(190,190,190,0.35)","rgba(0,0,255,0.2)","rgba(255,0,0,0.2)"]},"legend":null},"stroke":{"field":"t","type":"nominal","scale":{"domain":["NP0","NP30","NP90","NP120"],"range":["rgba(0,0,0,0.5)","rgba(0,0,0,0.5)","rgba(0,0,255,0.2)","rgba(255,0,0,0.2)"]},"legend":null}}},
 {"data":{"name":"sum"},"transform":[{"filter":"datum.p == 'Fungivores'"}],"encoding":{"x":{"field":"t","type":"nominal","sort":["NP0","NP30","NP90","NP120"]}},"layer":[
  {"mark":{"type":"circle","size":520,"strokeWidth":1.2,"opacity":1},"encoding":{"y":{"field":"m","type":"quantitative"},"fill":{"field":"t","type":"nominal","scale":{"domain":["NP0","NP30","NP90","NP120"],"range":["rgba(255,255,255,0.6)","rgba(150,150,150,0.8)","rgba(0,0,205,0.95)","rgba(255,0,0,0.95)"]},"legend":null},"stroke":{"field":"t","type":"nominal","scale":{"domain":["NP0","NP30","NP90","NP120"],"range":["rgba(0,0,0,0.75)","rgba(0,0,0,0.6)","rgba(0,0,90,0.6)","rgba(120,0,0,0.6)"]},"legend":null}}},
  {"mark":{"type":"rule","strokeWidth":2.5,"color":"black"},"encoding":{"y":{"field":"lo","type":"quantitative"},"y2":{"field":"hi"}}},
  {"mark":{"type":"tick","size":12,"thickness":2.5,"color":"black","opacity":1},"encoding":{"y":{"field":"lo","type":"quantitative"}}},
  {"mark":{"type":"tick","size":12,"thickness":2.5,"color":"black","opacity":1},"encoding":{"y":{"field":"hi","type":"quantitative"}}},
  {"mark":{"type":"text","fontSize":24,"color":"black","baseline":"middle"},"encoding":{"y":{"field":"ly","type":"quantitative"},"text":{"field":"lab"}}}
 ],"resolve":{"scale":{"fill":"independent","stroke":"independent"}}}
],"resolve":{"scale":{"fill":"independent","stroke":"independent"}}},

{"width":240,"height":266,"layer":[
 {"data":{"name":"pts"},"transform":[{"filter":"datum.p == 'Plant parasites'"}],"mark":{"type":"circle","size":120,"strokeWidth":1,"opacity":1},"encoding":{"x":{"field":"t","type":"nominal","sort":["NP0","NP30","NP90","NP120"],"scale":{"type":"band","paddingInner":0,"paddingOuter":0.1},"axis":{"bandPosition":0.5}},"xOffset":{"field":"j","type":"quantitative","scale":{"domain":[-0.5,0.5]}},"y":{"field":"v","type":"quantitative","scale":{"domain":[1.145,2.429],"nice":false,"zero":false},"axis":{"values":[1.2,1.5,1.8,2.1,2.4],"format":".1f"}},"fill":{"field":"t","type":"nominal","scale":{"domain":["NP0","NP30","NP90","NP120"],"range":["rgba(255,255,255,0.5)","rgba(190,190,190,0.35)","rgba(0,0,255,0.2)","rgba(255,0,0,0.2)"]},"legend":null},"stroke":{"field":"t","type":"nominal","scale":{"domain":["NP0","NP30","NP90","NP120"],"range":["rgba(0,0,0,0.5)","rgba(0,0,0,0.5)","rgba(0,0,255,0.2)","rgba(255,0,0,0.2)"]},"legend":null}}},
 {"data":{"name":"sum"},"transform":[{"filter":"datum.p == 'Plant parasites'"}],"encoding":{"x":{"field":"t","type":"nominal","sort":["NP0","NP30","NP90","NP120"]}},"layer":[
  {"mark":{"type":"circle","size":520,"strokeWidth":1.2,"opacity":1},"encoding":{"y":{"field":"m","type":"quantitative"},"fill":{"field":"t","type":"nominal","scale":{"domain":["NP0","NP30","NP90","NP120"],"range":["rgba(255,255,255,0.6)","rgba(150,150,150,0.8)","rgba(0,0,205,0.95)","rgba(255,0,0,0.95)"]},"legend":null},"stroke":{"field":"t","type":"nominal","scale":{"domain":["NP0","NP30","NP90","NP120"],"range":["rgba(0,0,0,0.75)","rgba(0,0,0,0.6)","rgba(0,0,90,0.6)","rgba(120,0,0,0.6)"]},"legend":null}}},
  {"mark":{"type":"rule","strokeWidth":2.5,"color":"black"},"encoding":{"y":{"field":"lo","type":"quantitative"},"y2":{"field":"hi"}}},
  {"mark":{"type":"tick","size":12,"thickness":2.5,"color":"black","opacity":1},"encoding":{"y":{"field":"lo","type":"quantitative"}}},
  {"mark":{"type":"tick","size":12,"thickness":2.5,"color":"black","opacity":1},"encoding":{"y":{"field":"hi","type":"quantitative"}}},
  {"mark":{"type":"text","fontSize":24,"color":"black","baseline":"middle"},"encoding":{"y":{"field":"ly","type":"quantitative"},"text":{"field":"lab"}}}
 ],"resolve":{"scale":{"fill":"independent","stroke":"independent"}}}
],"resolve":{"scale":{"fill":"independent","stroke":"independent"}}},

{"width":240,"height":266,"layer":[
 {"data":{"name":"pts"},"transform":[{"filter":"datum.p == 'Omnivores'"}],"mark":{"type":"circle","size":120,"strokeWidth":1,"opacity":1},"encoding":{"x":{"field":"t","type":"nominal","sort":["NP0","NP30","NP90","NP120"],"scale":{"type":"band","paddingInner":0,"paddingOuter":0.1},"axis":{"bandPosition":0.5}},"xOffset":{"field":"j","type":"quantitative","scale":{"domain":[-0.5,0.5]}},"y":{"field":"v","type":"quantitative","scale":{"domain":[-0.106,2.394],"nice":false,"zero":false},"axis":{"values":[0,0.5,1.0,1.5,2.0],"format":".1f"}},"fill":{"field":"t","type":"nominal","scale":{"domain":["NP0","NP30","NP90","NP120"],"range":["rgba(255,255,255,0.5)","rgba(190,190,190,0.35)","rgba(0,0,255,0.2)","rgba(255,0,0,0.2)"]},"legend":null},"stroke":{"field":"t","type":"nominal","scale":{"domain":["NP0","NP30","NP90","NP120"],"range":["rgba(0,0,0,0.5)","rgba(0,0,0,0.5)","rgba(0,0,255,0.2)","rgba(255,0,0,0.2)"]},"legend":null}}},
 {"data":{"name":"sum"},"transform":[{"filter":"datum.p == 'Omnivores'"}],"encoding":{"x":{"field":"t","type":"nominal","sort":["NP0","NP30","NP90","NP120"]}},"layer":[
  {"mark":{"type":"circle","size":520,"strokeWidth":1.2,"opacity":1},"encoding":{"y":{"field":"m","type":"quantitative"},"fill":{"field":"t","type":"nominal","scale":{"domain":["NP0","NP30","NP90","NP120"],"range":["rgba(255,255,255,0.6)","rgba(150,150,150,0.8)","rgba(0,0,205,0.95)","rgba(255,0,0,0.95)"]},"legend":null},"stroke":{"field":"t","type":"nominal","scale":{"domain":["NP0","NP30","NP90","NP120"],"range":["rgba(0,0,0,0.75)","rgba(0,0,0,0.6)","rgba(0,0,90,0.6)","rgba(120,0,0,0.6)"]},"legend":null}}},
  {"mark":{"type":"rule","strokeWidth":2.5,"color":"black"},"encoding":{"y":{"field":"lo","type":"quantitative"},"y2":{"field":"hi"}}},
  {"mark":{"type":"tick","size":12,"thickness":2.5,"color":"black","opacity":1},"encoding":{"y":{"field":"lo","type":"quantitative"}}},
  {"mark":{"type":"tick","size":12,"thickness":2.5,"color":"black","opacity":1},"encoding":{"y":{"field":"hi","type":"quantitative"}}},
  {"mark":{"type":"text","fontSize":24,"color":"black","baseline":"middle"},"encoding":{"y":{"field":"ly","type":"quantitative"},"text":{"field":"lab"}}}
 ],"resolve":{"scale":{"fill":"independent","stroke":"independent"}}}
],"resolve":{"scale":{"fill":"independent","stroke":"independent"}}},

{"width":240,"height":266,"layer":[
 {"data":{"name":"pts"},"transform":[{"filter":"datum.p == 'Predators'"}],"mark":{"type":"circle","size":120,"strokeWidth":1,"opacity":1},"encoding":{"x":{"field":"t","type":"nominal","sort":["NP0","NP30","NP90","NP120"],"scale":{"type":"band","paddingInner":0,"paddingOuter":0.1},"axis":{"bandPosition":0.5}},"xOffset":{"field":"j","type":"quantitative","scale":{"domain":[-0.5,0.5]}},"y":{"field":"v","type":"quantitative","scale":{"domain":[-0.065,1.459],"nice":false,"zero":false},"axis":{"values":[0,0.5,1.0],"format":".1f"}},"fill":{"field":"t","type":"nominal","scale":{"domain":["NP0","NP30","NP90","NP120"],"range":["rgba(255,255,255,0.5)","rgba(190,190,190,0.35)","rgba(0,0,255,0.2)","rgba(255,0,0,0.2)"]},"legend":null},"stroke":{"field":"t","type":"nominal","scale":{"domain":["NP0","NP30","NP90","NP120"],"range":["rgba(0,0,0,0.5)","rgba(0,0,0,0.5)","rgba(0,0,255,0.2)","rgba(255,0,0,0.2)"]},"legend":null}}},
 {"data":{"name":"sum"},"transform":[{"filter":"datum.p == 'Predators'"}],"encoding":{"x":{"field":"t","type":"nominal","sort":["NP0","NP30","NP90","NP120"]}},"layer":[
  {"mark":{"type":"circle","size":520,"strokeWidth":1.2,"opacity":1},"encoding":{"y":{"field":"m","type":"quantitative"},"fill":{"field":"t","type":"nominal","scale":{"domain":["NP0","NP30","NP90","NP120"],"range":["rgba(255,255,255,0.6)","rgba(150,150,150,0.8)","rgba(0,0,205,0.95)","rgba(255,0,0,0.95)"]},"legend":null},"stroke":{"field":"t","type":"nominal","scale":{"domain":["NP0","NP30","NP90","NP120"],"range":["rgba(0,0,0,0.75)","rgba(0,0,0,0.6)","rgba(0,0,90,0.6)","rgba(120,0,0,0.6)"]},"legend":null}}},
  {"mark":{"type":"rule","strokeWidth":2.5,"color":"black"},"encoding":{"y":{"field":"lo","type":"quantitative"},"y2":{"field":"hi"}}},
  {"mark":{"type":"tick","size":12,"thickness":2.5,"color":"black","opacity":1},"encoding":{"y":{"field":"lo","type":"quantitative"}}},
  {"mark":{"type":"tick","size":12,"thickness":2.5,"color":"black","opacity":1},"encoding":{"y":{"field":"hi","type":"quantitative"}}},
  {"mark":{"type":"text","fontSize":24,"color":"black","baseline":"middle"},"encoding":{"y":{"field":"ly","type":"quantitative"},"text":{"field":"lab"}}}
 ],"resolve":{"scale":{"fill":"independent","stroke":"independent"}}}
],"resolve":{"scale":{"fill":"independent","stroke":"independent"}}}
],
"columns": 4,
"spacing": {"row": 0, "column": 52},
"bounds": "flush",
"align": "each",
"resolve": {"scale": {"x": "independent", "y": "independent", "fill": "independent", "stroke": "independent"}, "axis": {"x": "independent", "y": "independent"}},
"config": {
 "font": "Liberation Sans",
 "view": {"stroke": "#333333", "strokeWidth": 1.2},
 "axis": {"grid": false, "domain": false, "title": null, "tickColor": "#333333", "tickSize": 5, "tickWidth": 1.2, "labelFont": "Liberation Sans", "labelColor": "#4d4d4d", "labelFontSize": 17, "labelPadding": 3},
 "axisX": {"labelColor": "black", "labelFontSize": 19, "labelAngle": 0, "labelPadding": 3},
 "text": {"font": "Liberation Sans"}
}
}
